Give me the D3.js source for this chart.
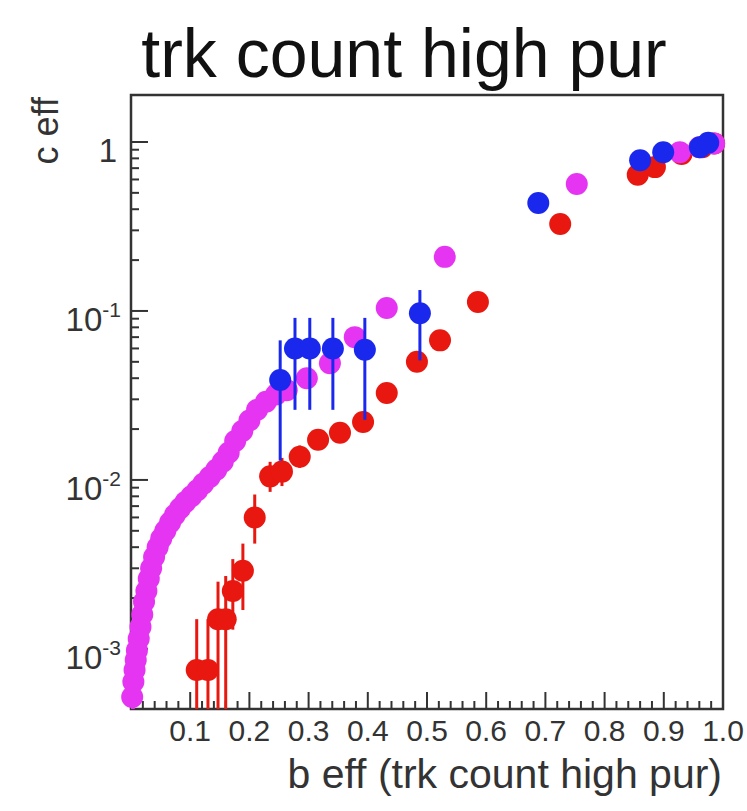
<!DOCTYPE html>
<html>
<head>
<meta charset="utf-8">
<script src="https://cdn.jsdelivr.net/npm/d3@7"></script>
<style>
  html, body { margin: 0; padding: 0; background: #fff; }
  svg { display: block; }
  text { font-family: "Liberation Sans", Arial, Helvetica, sans-serif; fill: #111; }
</style>
</head>
<body>
<div id="chart"></div>
<script>
// ---------------- data ----------------
const chartTitle = "trk count high pur";
const xTitle = "b eff (trk count high pur)";
const yTitle = "c eff";
const xTickValues = [0.1, 0.2, 0.3, 0.4, 0.5, 0.6, 0.7, 0.8, 0.9, 1.0];
const xTickLabels = ["0.1", "0.2", "0.3", "0.4", "0.5", "0.6", "0.7", "0.8", "0.9", "1.0"];
const yTickValues = [1, 0.1, 0.01, 0.001];
const yTickBase = ["1", "10", "10", "10"];
const yTickExp = ["", "-1", "-2", "-3"];

// magenta series
const magX = [0.002, 0.004, 0.006, 0.008, 0.010, 0.013, 0.016, 0.019, 0.022, 0.026,
              0.030, 0.034, 0.039, 0.045, 0.051, 0.058, 0.066, 0.074, 0.083, 0.092,
              0.102, 0.112, 0.122, 0.133, 0.144, 0.155, 0.165, 0.176, 0.188, 0.200,
              0.213, 0.228, 0.245, 0.263, 0.297, 0.336, 0.378, 0.432, 0.530, 0.753,
              0.927, 0.960, 0.985];
const magY = [0.00052, 0.00064, 0.00075, 0.00086, 0.00098, 0.00115, 0.00135, 0.0016, 0.0019, 0.0022,
              0.0026, 0.0030, 0.0035, 0.0040, 0.0045, 0.0050, 0.0056, 0.0062, 0.0068, 0.0074,
              0.0080, 0.0087, 0.0095, 0.0104, 0.0115, 0.0128, 0.0145, 0.017, 0.0195, 0.0225,
              0.026, 0.029, 0.032, 0.034, 0.040, 0.049, 0.070, 0.104, 0.209, 0.564,
              0.87, 0.93, 0.98];
const magLo = [0.0003, 0.0004, 0.0005, 0.0006, null, null, null, null, null, null,
               null, null, null, null, null, null, null, null, null, null,
               null, null, null, null, null, null, null, null, null, null,
               null, null, null, null, null, null, null, null, null, null,
               null, null, null];
const magHi = [0.0008, 0.0009, 0.0010, 0.0011, null, null, null, null, null, null,
               null, null, null, null, null, null, null, null, null, null,
               null, null, null, null, null, null, null, null, null, null,
               null, null, null, null, null, null, null, null, null, null,
               null, null, null];

// red series
const redX = [0.111, 0.130, 0.147, 0.160, 0.172, 0.189, 0.209, 0.235, 0.255, 0.285,
              0.316, 0.353, 0.392, 0.432, 0.483, 0.522, 0.586, 0.725, 0.856, 0.885,
              0.930, 0.965, 0.985];
const redY = [0.00075, 0.00075, 0.0015, 0.0015, 0.0022, 0.0029, 0.0060, 0.0105, 0.0112, 0.0137,
              0.0173, 0.019, 0.022, 0.0327, 0.050, 0.067, 0.113, 0.327, 0.64, 0.71,
              0.85, 0.93, 0.98];
const redLo = [0.0003, 0.0003, 0.0003, 0.0004, 0.0013, 0.0017, 0.0042, 0.0085, 0.0092, 0.0118,
               null, null, null, null, null, null, null, null, null, null,
               null, null, null];
const redHi = [0.0015, 0.0015, 0.0025, 0.0027, 0.0034, 0.0042, 0.0082, 0.0128, 0.0135, 0.016,
               null, null, null, null, null, null, null, null, null, null,
               null, null, null];

// blue series
const blueX = [0.252, 0.277, 0.302, 0.341, 0.395, 0.488, 0.688, 0.860, 0.899, 0.961, 0.975];
const blueY = [0.039, 0.060, 0.060, 0.060, 0.059, 0.097, 0.436, 0.78, 0.87, 0.93, 0.99];
const blueLo = [0.013, 0.026, 0.026, 0.026, 0.0227, 0.051, null, null, null, null, null];
const blueHi = [0.067, 0.091, 0.091, 0.091, 0.091, 0.133, null, null, null, null, null];

// ---------------- chart ----------------
const W = 747, H = 811;
const plot = { left: 131, right: 723, top: 95, bottom: 709 };
const colors = { magenta: "#e535f2", red: "#e8170f", blue: "#1a28ee" };

const svg = d3.select("#chart").append("svg").attr("width", W).attr("height", H);

const x = d3.scaleLinear().domain([0, 1]).range([plot.left, plot.right]);
const y = d3.scaleLog().domain([4.41e-4, 1.897]).range([plot.bottom, plot.top]);

svg.append("defs").append("clipPath").attr("id", "clip")
  .append("rect").attr("x", plot.left).attr("y", plot.top)
  .attr("width", plot.right - plot.left).attr("height", plot.bottom - plot.top);

// title
svg.append("text").attr("x", 404).attr("y", 77).attr("text-anchor", "middle")
  .style("font-size", "68px").text(chartTitle);

// frame
svg.append("rect").attr("x", plot.left).attr("y", plot.top)
  .attr("width", plot.right - plot.left).attr("height", plot.bottom - plot.top)
  .attr("fill", "none").attr("stroke", "#333").attr("stroke-width", 2.5);

// x axis ticks (inside), labels
const xMinor = d3.range(0, 51).map(i => i / 50);
const gx = svg.append("g");
gx.selectAll("line").data(xMinor).join("line")
  .attr("x1", d => x(d)).attr("x2", d => x(d))
  .attr("y1", plot.bottom)
  .attr("y2", (d, i) => plot.bottom - (i % 5 === 0 ? 17 : 8))
  .attr("stroke", "#333").attr("stroke-width", 2);
gx.selectAll("text").data(xTickValues).join("text")
  .attr("x", d => x(d)).attr("y", 741).attr("text-anchor", "middle")
  .style("font-size", "30px").style("fill", "#333")
  .text((d, i) => xTickLabels[i]);

// y axis ticks (log)
const yMinor = [];
[-4, -3, -2, -1, 0].forEach(e => { for (let m = 1; m <= 9; m++) yMinor.push({ v: m * Math.pow(10, e), major: m === 1 }); });
const yIn = yMinor.filter(d => d.v >= y.domain()[0] && d.v <= y.domain()[1]);
const gy = svg.append("g");
gy.selectAll("line").data(yIn).join("line")
  .attr("x1", plot.left).attr("x2", d => plot.left + (d.major ? 17 : 8))
  .attr("y1", d => y(d.v)).attr("y2", d => y(d.v))
  .attr("stroke", "#333").attr("stroke-width", 2);
const yl = gy.selectAll("text.ylab").data(yTickValues).join("text")
  .attr("class", "ylab")
  .attr("x", (d, i) => i === 0 ? 117 : 121).attr("y", d => y(d) + 20)
  .attr("text-anchor", "end").style("font-size", "33px").style("fill", "#333");
yl.append("tspan").text((d, i) => yTickBase[i]);
yl.append("tspan").attr("dy", -14).style("font-size", "21px").text((d, i) => yTickExp[i]);

// axis titles
svg.append("text").attr("x", 722).attr("y", 788).attr("text-anchor", "end")
  .style("font-size", "41px").style("fill", "#333").text(xTitle);
svg.append("text").attr("transform", "translate(58,97) rotate(-90)")
  .attr("text-anchor", "end").style("font-size", "36px").style("fill", "#333").text(yTitle);

// series drawing
function drawSeries(xs, ys, lo, hi, color) {
  const data = xs.map((d, i) => ({ x: d, y: ys[i], lo: lo[i], hi: hi[i] }));
  const g = svg.append("g");
  g.append("g").attr("clip-path", "url(#clip)")
    .selectAll("line").data(data.filter(d => d.lo != null)).join("line")
    .attr("x1", d => x(d.x)).attr("x2", d => x(d.x))
    .attr("y1", d => y(Math.max(d.lo, 1e-5))).attr("y2", d => y(d.hi))
    .attr("stroke", color).attr("stroke-width", 3);
  g.append("g").selectAll("circle").data(data).join("circle")
    .attr("cx", d => x(d.x)).attr("cy", d => y(d.y)).attr("r", 11)
    .attr("fill", color);
}
drawSeries(redX, redY, redLo, redHi, colors.red);
drawSeries(magX, magY, magLo, magHi, colors.magenta);
drawSeries(blueX, blueY, blueLo, blueHi, colors.blue);
</script>
</body>
</html>
